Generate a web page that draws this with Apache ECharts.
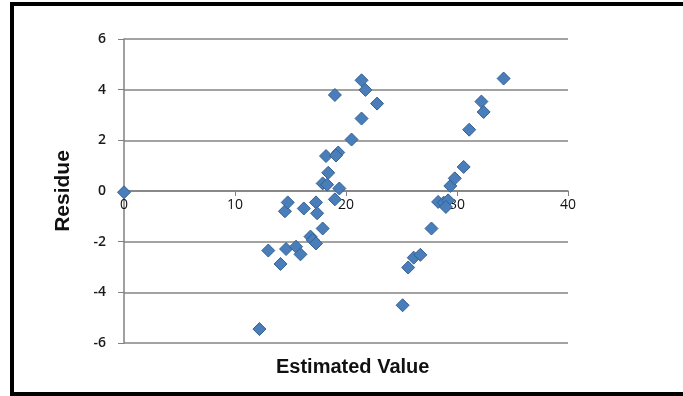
<!DOCTYPE html>
<html lang="en">
<head>
    <meta charset="UTF-8">
    <title>Residue plot</title>
    <script src="https://cdn.jsdelivr.net/npm/echarts@6/dist/echarts.min.js"></script>
    <style>
        html, body {margin:0; padding:0; background:#fff}
        #main {width:683px; height:396px}
    </style>
</head>
<body>
<div id="main"></div>
<script>
    // estimated value / residue
    var estimated = [0, 12.2, 13.0, 14.1, 14.5, 14.75, 14.6, 15.5, 15.9, 16.2, 16.8, 17.0, 17.3, 17.3, 17.4,
        17.9, 17.9, 18.3, 18.4, 18.2, 19.3, 19.1, 19.0, 19.0, 19.4, 20.5, 21.4, 21.4, 21.75, 22.8,
        25.1, 25.6, 26.1, 26.7, 27.7, 28.3, 28.8, 29.2, 29.0, 29.4, 29.8, 30.6, 31.1, 32.2, 32.4, 34.2];
    var residue = [-0.05, -5.45, -2.35, -2.88, -0.8, -0.45, -2.29, -2.2, -2.5, -0.69, -1.8, -1.93, -2.07, -0.45, -0.88,
        -1.48, 0.3, 0.25, 0.72, 1.38, 1.52, 1.4, 3.79, -0.33, 0.1, 2.03, 2.86, 4.37, 3.99, 3.45,
        -4.51, -3.02, -2.63, -2.52, -1.48, -0.43, -0.46, -0.37, -0.63, 0.2, 0.5, 0.95, 2.42, 3.53, 3.12, 4.44];
    var points = [];
    for (var i = 0; i < estimated.length; i++) {
        points.push([estimated[i], residue[i]]);
    }

    var chart = echarts.init(document.getElementById("main"));
    chart.setOption({
        animation: false,
        grid: {left: 124, right: 115, top: 39, bottom: 53},
        graphic: [
            {
                type: 'rect',
                shape: {x: 12, y: 4, width: 700, height: 390},
                style: {fill: 'none', stroke: '#000', lineWidth: 4}
            },
            {
                type: 'text',
                left: 276, top: 357,
                style: {text: 'Estimated Value', font: 'bold 20px "Liberation Sans", Arial', fill: '#111'}
            }
        ],
        xAxis: {
            type: 'value',
            min: 0, max: 40, interval: 10,
            offset: -152, // axis sits on the zero line
            axisLine: {show: true, onZero: false, lineStyle: {color: '#808080', width: 1.5}},
            axisTick: {show: true, length: 5, lineStyle: {color: '#808080'}},
            axisLabel: {color: '#111', fontSize: 14, fontFamily: '"Open Sans", sans-serif', margin: 7},
            splitLine: {show: false}
        },
        yAxis: {
            type: 'value',
            min: -6, max: 6, interval: 2,
            name: 'Residue',
            nameLocation: 'middle',
            nameGap: 50,
            nameTextStyle: {fontSize: 21, fontWeight: 'bold', color: '#111', fontFamily: '"Liberation Sans", Arial'},
            axisLine: {show: true, onZero: false, lineStyle: {color: '#808080', width: 1.5}},
            axisTick: {show: true, length: 6, lineStyle: {color: '#808080'}},
            axisLabel: {color: '#1a1a1a', fontSize: 14, fontWeight: 600, fontFamily: '"Open Sans", sans-serif', margin: 18},
            splitLine: {show: true, lineStyle: {color: '#858585', width: 1.5}}
        },
        series: [{
            type: 'scatter',
            symbol: 'diamond',
            symbolSize: 13,
            itemStyle: {color: '#4A7EBB', borderColor: '#35608F', borderWidth: 1, opacity: 1},
            data: points
        }]
    });
</script>
</body>
</html>
